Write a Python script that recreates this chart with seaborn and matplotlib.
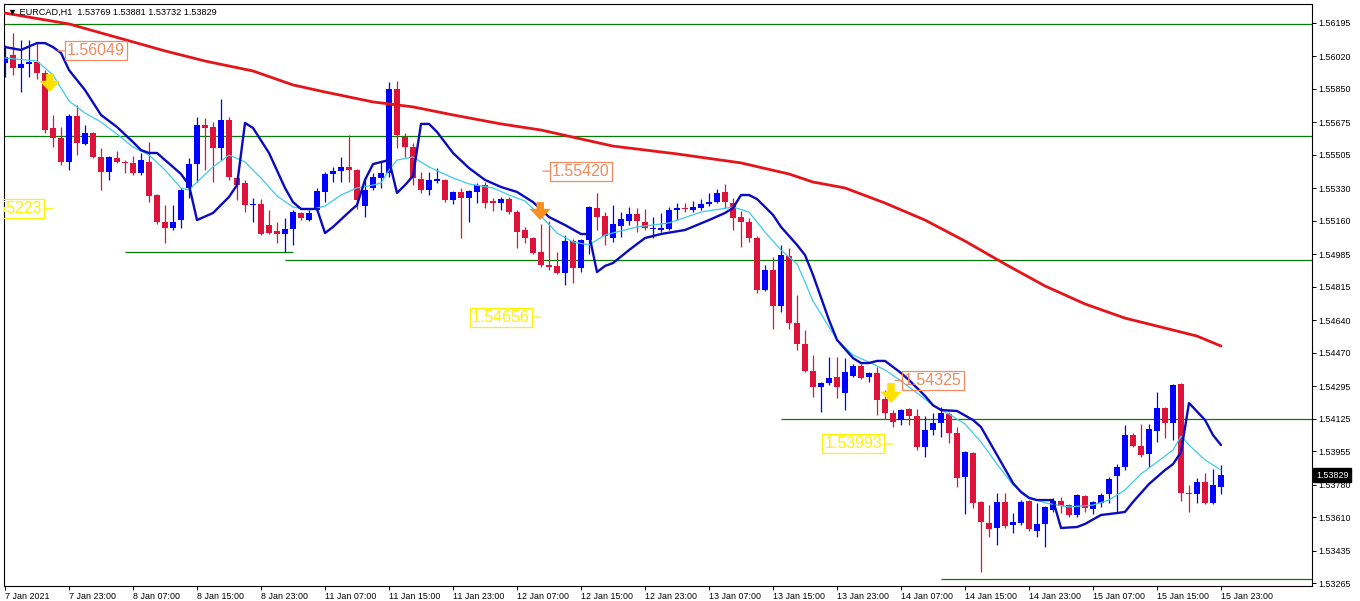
import numpy as np
import pandas as pd
import matplotlib
matplotlib.use("Agg")
import matplotlib.pyplot as plt
import seaborn as sns

# ---------------- data ----------------
symbol = "EURCAD"
timeframe = "H1"

opens = [1.55986, 1.56028, 1.55960, 1.55980, 1.55991, 1.55933, 1.55646, 1.55593, 1.55468, 1.55708,
         1.55562, 1.55619, 1.55494, 1.55415, 1.55489, 1.55468, 1.55463, 1.55410, 1.55468, 1.55295,
         1.55154, 1.55122, 1.55164, 1.55332, 1.55457, 1.55661, 1.55651, 1.55541, 1.55688, 1.55384,
         1.55358, 1.55243, 1.55248, 1.55138, 1.55107, 1.55091, 1.55117, 1.55201, 1.55164, 1.55217,
         1.55311, 1.55405, 1.55421, 1.55442, 1.55426, 1.55237, 1.55332, 1.55384, 1.55410, 1.55850,
         1.55599, 1.55546, 1.55379, 1.55321, 1.55368, 1.55374, 1.55269, 1.55311, 1.55279, 1.55311,
         1.55347, 1.55264, 1.55253, 1.55274, 1.55206, 1.55112, 1.55070, 1.54997, 1.54929, 1.54924,
         1.54887, 1.55054, 1.54913, 1.55060, 1.55227, 1.55185, 1.55070, 1.55133, 1.55159, 1.55196,
         1.55154, 1.55117, 1.55112, 1.55117, 1.55217, 1.55227, 1.55217, 1.55227, 1.55248, 1.55258,
         1.55311, 1.55253, 1.55180, 1.55154, 1.55070, 1.54798, 1.54903, 1.54714, 1.54976, 1.54626,
         1.54516, 1.54374, 1.54291, 1.54312, 1.54343, 1.54259, 1.54348, 1.54400, 1.54343, 1.54364,
         1.54228, 1.54155, 1.54118, 1.54175, 1.54139, 1.53977, 1.54066, 1.54102, 1.54149, 1.54050,
         1.53820, 1.53945, 1.53689, 1.53579, 1.53553, 1.53689, 1.53568, 1.53579, 1.53694, 1.53537,
         1.53574, 1.53647, 1.53694, 1.53673, 1.53621, 1.53720, 1.53652, 1.53684, 1.53731, 1.53825,
         1.53872, 1.54039, 1.53982, 1.53940, 1.54060, 1.54181, 1.54102, 1.54306, 1.53736, 1.53731,
         1.53794, 1.53684, 1.53769]
highs = [1.56080, 1.56143, 1.56106, 1.56106, 1.56090, 1.55949, 1.55714, 1.55651, 1.55719, 1.55766,
         1.55661, 1.55625, 1.55541, 1.55499, 1.55525, 1.55478, 1.55499, 1.55515, 1.55572, 1.55300,
         1.55243, 1.55243, 1.55332, 1.55489, 1.55703, 1.55698, 1.55677, 1.55797, 1.55703, 1.55389,
         1.55374, 1.55279, 1.55274, 1.55217, 1.55154, 1.55175, 1.55217, 1.55206, 1.55217, 1.55332,
         1.55415, 1.55442, 1.55494, 1.55609, 1.55431, 1.55389, 1.55410, 1.55468, 1.55886, 1.55892,
         1.55619, 1.55567, 1.55415, 1.55415, 1.55436, 1.55379, 1.55316, 1.55332, 1.55321, 1.55358,
         1.55363, 1.55279, 1.55285, 1.55285, 1.55217, 1.55128, 1.55075, 1.55143, 1.55159, 1.54997,
         1.55086, 1.55065, 1.55065, 1.55237, 1.55306, 1.55206, 1.55243, 1.55206, 1.55232, 1.55227,
         1.55222, 1.55180, 1.55201, 1.55232, 1.55253, 1.55253, 1.55264, 1.55274, 1.55306, 1.55326,
         1.55353, 1.55279, 1.55211, 1.55175, 1.55081, 1.54929, 1.54971, 1.55034, 1.55018, 1.54772,
         1.54589, 1.54458, 1.54317, 1.54448, 1.54448, 1.54442, 1.54411, 1.54411, 1.54369, 1.54395,
         1.54275, 1.54170, 1.54175, 1.54181, 1.54175, 1.54139, 1.54155, 1.54186, 1.54160, 1.54081,
         1.53956, 1.53950, 1.53694, 1.53673, 1.53736, 1.53736, 1.53631, 1.53699, 1.53699, 1.53684,
         1.53668, 1.53710, 1.53715, 1.53678, 1.53731, 1.53726, 1.53694, 1.53736, 1.53820, 1.53887,
         1.54092, 1.54050, 1.54097, 1.54097, 1.54264, 1.54186, 1.54306, 1.54312, 1.53778, 1.53814,
         1.53841, 1.53862, 1.53881]
lows = [1.55912, 1.55923, 1.55834, 1.55912, 1.55902, 1.55619, 1.55546, 1.55452, 1.55426, 1.55504,
        1.55557, 1.55489, 1.55321, 1.55374, 1.55463, 1.55410, 1.55400, 1.55400, 1.55258, 1.55143,
        1.55044, 1.55112, 1.55122, 1.55279, 1.55363, 1.55426, 1.55363, 1.55478, 1.55374, 1.55269,
        1.55206, 1.55154, 1.55086, 1.55091, 1.55044, 1.54997, 1.55034, 1.55164, 1.55159, 1.55206,
        1.55258, 1.55363, 1.55363, 1.55363, 1.55222, 1.55180, 1.55321, 1.55332, 1.55389, 1.55541,
        1.55494, 1.55347, 1.55306, 1.55295, 1.55358, 1.55258, 1.55248, 1.55070, 1.55154, 1.55253,
        1.55227, 1.55211, 1.55217, 1.55196, 1.55018, 1.55044, 1.54986, 1.54918, 1.54903, 1.54882,
        1.54824, 1.54835, 1.54892, 1.54986, 1.55112, 1.55034, 1.55049, 1.55075, 1.55138, 1.55101,
        1.55112, 1.55070, 1.55101, 1.55112, 1.55164, 1.55206, 1.55206, 1.55217, 1.55237, 1.55253,
        1.55227, 1.55112, 1.55023, 1.55049, 1.54782, 1.54793, 1.54594, 1.54683, 1.54594, 1.54484,
        1.54369, 1.54238, 1.54160, 1.54301, 1.54233, 1.54170, 1.54343, 1.54332, 1.54317, 1.54144,
        1.54123, 1.54081, 1.54092, 1.54092, 1.53961, 1.53924, 1.54039, 1.54029, 1.53998, 1.53767,
        1.53626, 1.53657, 1.53323, 1.53506, 1.53464, 1.53553, 1.53527, 1.53568, 1.53537, 1.53506,
        1.53453, 1.53637, 1.53631, 1.53610, 1.53610, 1.53637, 1.53626, 1.53663, 1.53684, 1.53637,
        1.53856, 1.53977, 1.53924, 1.53872, 1.54003, 1.54024, 1.54013, 1.53694, 1.53637, 1.53684,
        1.53678, 1.53678, 1.53732]
closes = [1.56017, 1.55960, 1.55980, 1.55991, 1.55933, 1.55635, 1.55593, 1.55468, 1.55708, 1.55567,
          1.55619, 1.55494, 1.55415, 1.55494, 1.55468, 1.55463, 1.55410, 1.55478, 1.55290, 1.55154,
          1.55122, 1.55154, 1.55321, 1.55457, 1.55661, 1.55646, 1.55541, 1.55688, 1.55389, 1.55347,
          1.55243, 1.55248, 1.55091, 1.55096, 1.55091, 1.55117, 1.55206, 1.55175, 1.55201, 1.55316,
          1.55405, 1.55421, 1.55442, 1.55426, 1.55269, 1.55321, 1.55389, 1.55410, 1.55850, 1.55609,
          1.55546, 1.55384, 1.55321, 1.55374, 1.55379, 1.55269, 1.55311, 1.55279, 1.55316, 1.55347,
          1.55253, 1.55253, 1.55274, 1.55206, 1.55101, 1.55070, 1.54992, 1.54929, 1.54918, 1.54887,
          1.55054, 1.54913, 1.55060, 1.55232, 1.55180, 1.55081, 1.55143, 1.55170, 1.55196, 1.55159,
          1.55122, 1.55122, 1.55122, 1.55217, 1.55227, 1.55222, 1.55232, 1.55248, 1.55258, 1.55306,
          1.55258, 1.55175, 1.55154, 1.55070, 1.54798, 1.54903, 1.54714, 1.54981, 1.54626, 1.54516,
          1.54374, 1.54291, 1.54312, 1.54338, 1.54291, 1.54369, 1.54400, 1.54338, 1.54364, 1.54223,
          1.54155, 1.54107, 1.54170, 1.54139, 1.53977, 1.54066, 1.54102, 1.54155, 1.54050, 1.53814,
          1.53950, 1.53684, 1.53584, 1.53548, 1.53689, 1.53563, 1.53584, 1.53689, 1.53548, 1.53574,
          1.53663, 1.53694, 1.53668, 1.53621, 1.53726, 1.53657, 1.53689, 1.53726, 1.53809, 1.53872,
          1.54039, 1.53982, 1.53935, 1.54071, 1.54181, 1.54102, 1.54301, 1.53736, 1.53731, 1.53794,
          1.53684, 1.53778, 1.53829]

# slow moving average (red)
red_bars = [0, 8, 16, 20, 25, 31, 36, 40, 46, 51, 56, 62, 67, 76, 84, 92, 98, 101, 105, 110,
            115, 120, 125, 130, 135, 140, 145, 147, 149, 152]
red_vals = [1.56247, 1.56190, 1.56096, 1.56049, 1.55996, 1.55944, 1.55871, 1.55834, 1.55782, 1.55756,
            1.55714, 1.55667, 1.55635, 1.55551, 1.55510, 1.55463, 1.55405, 1.55363, 1.55332, 1.55253,
            1.55164, 1.55054, 1.54934, 1.54819, 1.54725, 1.54651, 1.54599, 1.54578, 1.54557, 1.54505]

# stepped indicator line (dark blue)
blue_bars = [0, 2, 4, 5, 6, 7, 8, 10, 12, 14, 16, 17, 18, 19, 20, 21, 22, 23, 24, 26,
             28, 29, 30, 31, 33, 35, 36, 37, 39, 40, 41, 43, 44, 45, 46, 48, 49, 50, 51, 52,
             53, 54, 56, 58, 60, 62, 64, 66, 68, 70, 72, 73, 74, 75, 76, 78, 80, 82, 85, 88,
             90, 91, 92, 93, 94, 96, 97, 99, 100, 101, 103, 104, 106, 107, 108, 109, 110, 112, 113, 115,
             116, 117, 119, 121, 122, 124, 126, 127, 128, 129, 131, 132, 134, 135, 137, 139, 140, 141, 143, 145,
             146, 147, 148, 150, 151, 152]
blue_vals = [1.56069, 1.56054, 1.56090, 1.56090, 1.56069, 1.56038, 1.55949, 1.55844, 1.55714, 1.55651,
             1.55572, 1.55530, 1.55515, 1.55515, 1.55478, 1.55442, 1.55405, 1.55347, 1.55164, 1.55201,
             1.55285, 1.55347, 1.55672, 1.55646, 1.55515, 1.55332, 1.55258, 1.55222, 1.55222, 1.55096,
             1.55128, 1.55206, 1.55243, 1.55374, 1.55457, 1.55478, 1.55306, 1.55347, 1.55394, 1.55667,
             1.55667, 1.55625, 1.55515, 1.55436, 1.55374, 1.55337, 1.55311, 1.55258, 1.55180, 1.55138,
             1.55091, 1.55091, 1.54892, 1.54924, 1.54939, 1.55007, 1.55070, 1.55091, 1.55112, 1.55164,
             1.55201, 1.55227, 1.55295, 1.55295, 1.55274, 1.55191, 1.55128, 1.55034, 1.54981, 1.54877,
             1.54641, 1.54537, 1.54442, 1.54416, 1.54416, 1.54427, 1.54427, 1.54364, 1.54327, 1.54244,
             1.54195, 1.54170, 1.54165, 1.54118, 1.54081, 1.53935, 1.53788, 1.53741, 1.53710, 1.53699,
             1.53699, 1.53553, 1.53558, 1.53574, 1.53621, 1.53631, 1.53637, 1.53689, 1.53783, 1.53856,
             1.53887, 1.53950, 1.54207, 1.54118, 1.54039, 1.53987]

# fast moving average (cyan)
cyan_bars = [0, 4, 6, 8, 10, 12, 14, 16, 18, 20, 22, 23, 24, 26, 28, 30, 32, 34, 36, 38,
             40, 42, 44, 46, 47, 48, 49, 51, 53, 56, 58, 61, 63, 65, 67, 69, 71, 73, 75, 79,
             83, 87, 91, 93, 95, 97, 99, 100, 101, 104, 106, 108, 110, 112, 114, 116, 118, 120, 122, 124,
             126, 128, 130, 133, 136, 138, 140, 142, 144, 146, 147, 148, 150, 152]
cyan_vals = [1.56012, 1.55996, 1.55923, 1.55787, 1.55724, 1.55677, 1.55614, 1.55546, 1.55504, 1.55426,
             1.55332, 1.55321, 1.55363, 1.55442, 1.55504, 1.55468, 1.55384, 1.55290, 1.55232, 1.55217,
             1.55237, 1.55295, 1.55332, 1.55347, 1.55358, 1.55426, 1.55478, 1.55494, 1.55442, 1.55384,
             1.55353, 1.55332, 1.55295, 1.55264, 1.55185, 1.55096, 1.55049, 1.55034, 1.55086, 1.55128,
             1.55149, 1.55206, 1.55232, 1.55206, 1.55101, 1.55007, 1.54935, 1.54840, 1.54740, 1.54537,
             1.54458, 1.54421, 1.54380, 1.54322, 1.54259, 1.54195, 1.54149, 1.54097, 1.54003, 1.53887,
             1.53778, 1.53715, 1.53684, 1.53663, 1.53673, 1.53699, 1.53752, 1.53836, 1.53898, 1.53961,
             1.54034, 1.53987, 1.53909, 1.53856]

# horizontal levels (green)
level_prices = [1.56190, 1.55604, 1.54997, 1.54955, 1.54123, 1.53286]
level_start = [-1, -1, 15, 35, 97, 117]
level_end = [170, 170, 36, 170, 170, 170]

# price labels
label_prices = [1.56049, 1.55223, 1.55420, 1.54656, 1.54325, 1.53993]
label_bars = [6.6, 6.0, 67.25, 67.0, 111.25, 111.0]
label_side = ["right", "left", "right", "left", "right", "left"]
label_kind = ["up", "down", "up", "down", "up", "down"]

# signal arrows
arrow_bars = [5.6, 66.9, 110.75]
arrow_top = [1.55928, 1.55258, 1.54312]
arrow_tip = [1.55834, 1.55164, 1.54207]
arrow_kind = ["yellow", "orange", "yellow"]

x_tick_bars = list(range(0, 153, 8))
x_tick_labels = ["7 Jan 2021", "7 Jan 23:00", "8 Jan 07:00", "8 Jan 15:00", "8 Jan 23:00",
                 "11 Jan 07:00", "11 Jan 15:00", "11 Jan 23:00", "12 Jan 07:00", "12 Jan 15:00",
                 "12 Jan 23:00", "13 Jan 07:00", "13 Jan 15:00", "13 Jan 23:00", "14 Jan 07:00",
                 "14 Jan 15:00", "14 Jan 23:00", "15 Jan 07:00", "15 Jan 15:00", "15 Jan 23:00"]
y_ticks = [1.56195, 1.56020, 1.55850, 1.55675, 1.55505, 1.55330, 1.55160, 1.54985, 1.54815,
           1.54640, 1.54470, 1.54295, 1.54125, 1.53955, 1.53780, 1.53610, 1.53435, 1.53265]

# ---------------- style ----------------
BULL = "#0000FF"
BEAR = "#DC143C"
RED_MA = "#E5141B"
BLUE_LINE = "#0A0ABE"
CYAN_LINE = "#3CCBEB"
GREEN = "#0A7A0A"
ORANGE_TXT = "#EF8C62"
YELLOW = "#FFF200"
ARROW_COL = {"yellow": "#FFE000", "orange": "#F7901E"}
LABEL_COL = {"up": ORANGE_TXT, "down": YELLOW}

sns.set_theme(style="white")
plt.rcParams["font.family"] = ["Liberation Sans", "DejaVu Sans"]

W, H = 1360, 601
fig = plt.figure(figsize=(W / 100, H / 100), dpi=100)
fig.patch.set_facecolor("white")
ax = fig.add_axes([4 / W, 15 / H, 1308 / W, 582 / H])
ax.set_facecolor("white")

df = pd.DataFrame({"o": opens, "h": highs, "l": lows, "c": closes})
df["bar"] = np.arange(len(df))
up = df["c"] >= df["o"]
cols = np.where(up, BULL, BEAR)

# wicks and bodies
ax.vlines(df["bar"], df["l"], df["h"], colors=cols, linewidth=0.9, zorder=3)
body_h = np.maximum((df["c"] - df["o"]).abs(), 0.00003)
ax.bar(df["bar"], body_h, bottom=df[["o", "c"]].min(axis=1), width=0.66,
       color=cols, linewidth=0, zorder=3)

# levels
ax.hlines(level_prices, level_start, level_end, colors=GREEN, linewidth=0.9, zorder=1)

# indicator lines
sns.lineplot(x=red_bars, y=red_vals, ax=ax, color=RED_MA, linewidth=2.0, zorder=4)
sns.lineplot(x=cyan_bars, y=cyan_vals, ax=ax, color=CYAN_LINE, linewidth=0.9, zorder=5)
sns.lineplot(x=blue_bars, y=blue_vals, ax=ax, color=BLUE_LINE, linewidth=1.7, zorder=6)

# price labels with connector dash
for p, b, side, kind in zip(label_prices, label_bars, label_side, label_kind):
    col = LABEL_COL[kind]
    off = 9 if side == "right" else -11
    ax.annotate(f"{p:.5f}", xy=(b, p), xytext=(off, 0), textcoords="offset pixels",
                ha="left" if side == "right" else "right", va="center",
                fontsize=11.5, color=col,
                bbox=dict(boxstyle="square,pad=0.12", fc="none", ec=col, lw=0.9),
                arrowprops=dict(arrowstyle="-", color=col, lw=0.9, shrinkA=0, shrinkB=0),
                annotation_clip=False, clip_on=True, zorder=7)

# signal arrows
for b, t0, t1, kind in zip(arrow_bars, arrow_top, arrow_tip, arrow_kind):
    ax.annotate("", xy=(b, t1), xytext=(b, t0),
                arrowprops=dict(arrowstyle="simple,head_length=0.45,head_width=0.85,tail_width=0.3",
                                color=ARROW_COL[kind], lw=0, mutation_scale=18,
                                shrinkA=0, shrinkB=0), zorder=8)

# axes
ax.set_xlim(-0.125, 163.375)
ax.set_ylim(1.532494, 1.562944)
ax.set_xlabel("")
ax.set_ylabel("")
ax.set_xticks(x_tick_bars)
ax.set_xticklabels(x_tick_labels, ha="left", fontsize=6.4)
ax.yaxis.tick_right()
ax.set_yticks(y_ticks)
ax.set_yticklabels([f"{v:.5f}" for v in y_ticks], fontsize=6.4)
ax.tick_params(axis="x", bottom=True, direction="out", length=3, width=0.7, color="black",
               pad=1.5, labelcolor="black")
ax.tick_params(axis="y", right=True, left=False, labelright=True, labelleft=False,
               direction="out", length=3, width=0.7, color="black", pad=1.5, labelcolor="black")
for s in ax.spines.values():
    s.set_color("black")
    s.set_linewidth(0.8)
ax.grid(False)

# current price box
ax.annotate(f"{closes[-1]:.5f}", xy=(1.0, closes[-1]), xycoords=("axes fraction", "data"),
            xytext=(4, 0), textcoords="offset pixels", ha="left", va="center",
            fontsize=6.4, color="white",
            bbox=dict(boxstyle="square,pad=0.3", fc="black", ec="black"),
            annotation_clip=False, zorder=20)

# header
ax.text(4 / 1308, 1 - 8 / 582,
        f"\u25bc {symbol},{timeframe}  {opens[-1]:.5f} {highs[-1]:.5f} {lows[-1]:.5f} {closes[-1]:.5f}",
        transform=ax.transAxes, ha="left", va="center", fontsize=6.6, color="black", zorder=20)

fig.savefig("out.png", dpi=100, facecolor="white")
